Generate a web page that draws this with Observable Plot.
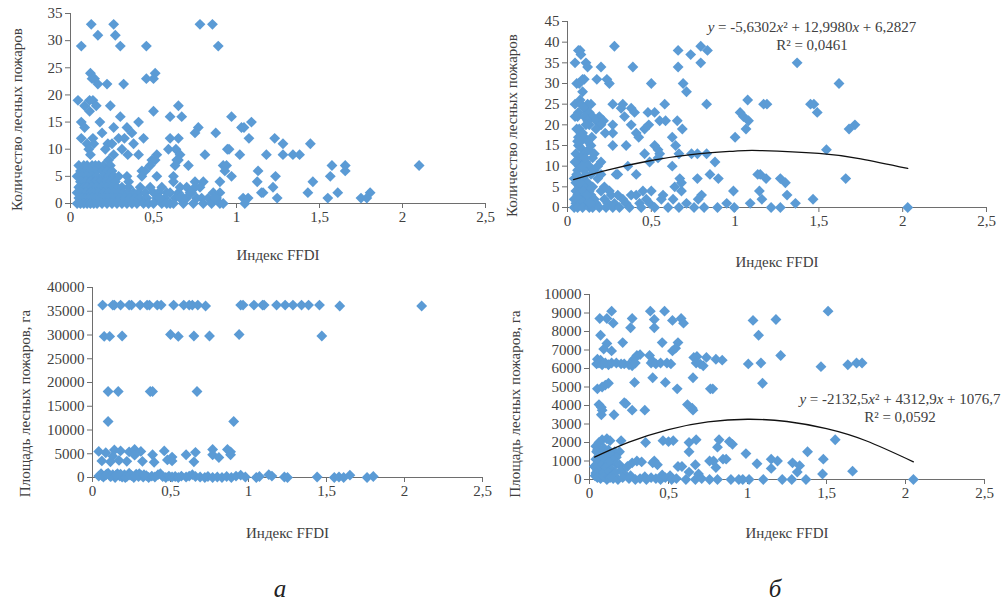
<!DOCTYPE html>
<html>
<head>
<meta charset="utf-8">
<script src="https://cdn.jsdelivr.net/npm/d3@7"></script>
<script src="https://cdn.jsdelivr.net/npm/@observablehq/plot@0.6"></script>
<style>
  html, body { margin: 0; padding: 0; background: #fff; }
  #root { position: relative; width: 1008px; height: 601px; overflow: hidden; font-family: "Liberation Serif", "Times New Roman", serif; }
  #root svg { position: absolute; }
  .eq { position: absolute; font-family: "Liberation Serif", serif; font-size: 15px; color: #404040; text-align: center; white-space: nowrap; line-height: 18px; transform: translateX(-50%); }
  .letter { position: absolute; font-family: "Liberation Serif", serif; font-style: italic; font-size: 25px; color: #222; transform: translate(-50%, -50%); }
</style>
</head>
<body>
<div id="root"></div>
<script>
// ---------- data ----------
const xTicks = [0, 0.5, 1, 1.5, 2, 2.5];
const yTicksCountA = [0, 5, 10, 15, 20, 25, 30, 35];
const yTicksCountB = [0, 5, 10, 15, 20, 25, 30, 35, 40, 45];
const yTicksAreaA = [0, 5000, 10000, 15000, 20000, 25000, 30000, 35000, 40000];
const yTicksAreaB = [0, 1000, 2000, 3000, 4000, 5000, 6000, 7000, 8000, 9000, 10000];
const xLabel = "Индекс FFDI";
const yLabelCount = "Количество лесных пожаров";
const yLabelArea = "Площадь лесных пожаров, га";
const panelLetters = ["а", "б"];

// panel а, top: FFDI vs number of fires
const ffdiCountA = [
[0.125,33],[0.26,33],[0.78,33],[0.855,33],
[0.165,31],[0.27,31],
[0.065,29],[0.3,29],[0.457,29],[0.89,29],
[0.12,24],[0.51,24],
[0.13,23],[0.145,23],[0.457,23],[0.5,23],
[0.165,22],[0.22,22],[0.32,22],
[0.045,19],[0.115,19],[0.135,19],
[0.085,18],[0.155,18],[0.24,18],[0.65,18],
[0.115,17],[0.5,17],
[0.3,16],[0.6,16],[0.67,16],[0.97,16],
[0.065,15],[0.177,15],[0.41,15],[1.09,15],
[0.085,14],[0.26,14],[0.34,14],[0.77,14],[1.03,14],[1.045,14],
[0.19,13],[0.37,13],[0.75,13],[0.875,13],
[0.065,12],[0.135,12],[0.29,12],[0.325,12],[0.44,12],[0.6,12],[0.65,12],[1.075,12],[1.23,12],
[0.1,11],[0.14,11],[0.225,11],[0.25,11],[0.38,11],[1.28,11],[1.445,11],
[0.11,10],[0.21,10],[0.31,10],[0.59,10],[0.635,10],[0.945,10],[0.955,10],
[0.12,9],[0.26,9],[0.345,9],[0.41,9],[0.52,9],[0.66,9],[0.81,9],[1.02,9],[1.18,9],[1.28,9],[1.34,9],[1.38,9],
[0.23,8],[0.49,8],[0.51,8],[0.64,8],[0.65,8],
[0.05,7],[0.08,7],[0.1,7],[0.13,7],[0.15,7],[0.17,7],[0.2,7],[0.24,7],[0.48,7],[0.63,7],[0.71,7],[0.92,7],[0.94,7],[1.575,7],[1.655,7],[2.1,7],
[0.06,6],[0.09,6],[0.12,6],[0.15,6],[0.19,6],[0.22,6],[0.25,6],[0.43,6],[0.45,6],[0.93,6],[1.13,6],[1.655,6],
[0.04,5],[0.07,5],[0.1,5],[0.13,5],[0.16,5],[0.2,5],[0.23,5],[0.26,5],[0.29,5],[0.34,5],[0.43,5],[0.52,5],[0.62,5],[0.97,5],[1.235,5],[1.565,5],
[0.06,4],[0.09,4],[0.12,4],[0.15,4],[0.18,4],[0.21,4],[0.24,4],[0.27,4],[0.35,4],[0.62,4],[0.75,4],[0.8,4],[0.9,4],[1.125,4],[1.46,4],
[0.05,3],[0.08,3],[0.1,3],[0.13,3],[0.16,3],[0.19,3],[0.22,3],[0.25,3],[0.28,3],[0.31,3],[0.35,3],[0.42,3],[0.48,3],[0.55,3],[0.7,3],[0.75,3],[1.22,3],
[0.04,2],[0.06,2],[0.09,2],[0.12,2],[0.14,2],[0.17,2],[0.2,2],[0.23,2],[0.26,2],[0.29,2],[0.32,2],[0.35,2],[0.38,2],[0.41,2],[0.45,2],[0.5,2],[0.53,2],[0.58,2],[0.65,2],[0.72,2],[0.9,2],[1.15,2],[1.16,2],[1.43,2],[1.61,2],[1.805,2],
[0.05,1],[0.07,1],[0.09,1],[0.11,1],[0.13,1],[0.15,1],[0.18,1],[0.21,1],[0.24,1],[0.27,1],[0.3,1],[0.33,1],[0.36,1],[0.39,1],[0.42,1],[0.46,1],[0.52,1],[0.57,1],[0.63,1],[0.66,1],[0.7,1],[0.76,1],[0.79,1],[0.83,1],[0.88,1],[1.04,1],[1.07,1],[1.245,1],[1.55,1],[1.75,1],[1.785,1],
[0.04,0],[0.06,0],[0.08,0],[0.1,0],[0.12,0],[0.14,0],[0.16,0],[0.19,0],[0.22,0],[0.25,0],[0.28,0],[0.31,0],[0.34,0],[0.37,0],[0.4,0],[0.44,0],[0.47,0],[0.5,0],[0.55,0],[0.6,0],[0.62,0],[0.68,0],[0.74,0],[0.8,0],[0.85,0],[0.9,0],[1.05,0],
[0.54,1],[0.6,2],[0.68,1],[0.73,2],[0.78,3],[0.86,2],[0.87,1],[0.92,0],[0.58,0],[0.66,3]
];

// panel б, top: FFDI vs number of fires
const ffdiCountB = [
[0.28,39],[0.795,39],
[0.065,38],[0.075,38],[0.66,38],[0.835,38],
[0.08,37],[0.735,37],
[0.045,35],[0.11,35],[0.795,35],[1.37,35],
[0.12,34],[0.2,34],[0.39,34],[0.66,34],
[0.09,31],[0.1,31],[0.175,31],[0.235,31],
[0.055,30],[0.07,30],[0.25,30],[0.5,30],[0.69,30],[1.62,30],
[0.09,28],[0.71,28],
[0.075,26],[1.075,26],
[0.045,25],[0.08,25],[0.12,25],[0.14,25],[0.27,25],[0.33,25],[0.58,25],[0.83,25],[1.17,25],[1.19,25],[1.45,25],[1.47,25],
[0.1,24],[0.32,24],[0.38,24],
[0.065,23],[0.13,23],[0.4,23],[0.48,23],[0.52,23],[1.03,23],[1.49,23],
[0.045,22],[0.06,22],[0.1,22],[0.15,22],[0.19,22],[0.34,22],[1.05,22],
[0.12,21],[0.17,21],[0.215,21],[0.55,21],[0.585,21],[0.655,21],[1.08,21],
[0.13,20],[0.2,20],[0.27,20],[0.38,20],[0.485,20],[1.715,20],
[0.07,19],[0.17,19],[0.46,19],[0.685,19],[1.065,19],[1.68,19],
[0.08,18],[0.225,18],[0.27,18],[0.41,18],
[0.065,17],[0.1,17],[0.425,17],[0.625,17],[1.0,17],
[0.08,16],[0.12,16],
[0.065,15],[0.14,15],[0.27,15],[0.35,15],[0.52,15],[0.645,15],
[0.09,14],[0.13,14],[0.54,14],[1.545,14],
[0.05,13],[0.1,13],[0.46,13],[0.55,13],[0.665,13],[0.74,13],[0.775,13],[0.83,13],
[0.08,12],[0.15,12],[0.54,12],
[0.065,11],[0.11,11],[0.2,11],[0.49,11],[0.88,11],
[0.07,10],[0.13,10],[0.36,10],[0.625,10],
[0.06,9],[0.1,9],[0.16,9],
[0.11,8],[0.14,8],[0.29,8],[0.3,8],[0.41,8],[0.85,8],[1.135,8],[1.15,8],
[0.04,7],[0.09,7],[0.18,7],[0.67,7],[0.775,7],[0.9,7],[1.185,7],[1.27,7],[1.66,7],
[0.05,6],[0.12,6],[0.68,6],[1.3,6],
[0.07,5],[0.1,5],[0.15,5],[0.64,5],
[0.05,4],[0.08,4],[0.13,4],[0.2,4],[0.45,4],[0.5,4],[0.68,4],[0.99,4],[1.145,4],
[0.06,3],[0.1,3],[0.14,3],[0.26,3],[0.3,3],[0.38,3],[0.41,3],[0.57,3],[0.8,3],[1.31,3],
[0.04,2],[0.07,2],[0.11,2],[0.16,2],[0.22,2],[0.33,2],[0.47,2],[0.56,2],[0.63,2],[0.78,2],[1.16,2],[1.465,2],
[0.05,1],[0.08,1],[0.12,1],[0.17,1],[0.24,1],[0.28,1],[0.35,1],[0.43,1],[0.49,1],[0.71,1],[0.95,1],[1.09,1],[1.36,1],
[0.04,0],[0.06,0],[0.09,0],[0.13,0],[0.15,0],[0.19,0],[0.23,0],[0.27,0],[0.31,0],[0.37,0],[0.44,0],[0.52,0],[0.6,0],[0.665,0],[0.755,0],[0.815,0],[0.895,0],[0.995,0],[1.215,0],[1.27,0],[2.03,0],
[0.055,8],[0.075,6],[0.095,4],[0.115,3],[0.135,1],[0.155,9],[0.085,10],[0.105,12],[0.125,14],[0.06,16],[0.09,18],[0.11,20],[0.055,19],[0.145,17],[0.16,13],[0.18,10],[0.2,8],[0.22,5],[0.25,4],[0.045,11]
];

// panel а, bottom: FFDI vs burnt area, ha
const ffdiAreaA = [
[0.065,36300],[0.13,36300],[0.14,36300],[0.18,36300],[0.235,36300],[0.25,36300],[0.305,36300],[0.35,36300],[0.365,36300],[0.415,36300],[0.44,36300],[0.52,36300],[0.585,36300],[0.62,36300],[0.64,36300],[0.675,36300],[0.725,36100],[0.95,36300],[0.965,36300],[1.035,36300],[1.09,36300],[1.1,36300],[1.18,36300],[1.235,36300],[1.285,36300],[1.34,36300],[1.385,36300],[1.455,36300],[1.585,36100],[2.11,36100],
[0.075,29700],[0.11,29700],[0.19,29800],[0.5,30100],[0.55,29700],[0.65,29800],[0.75,29800],[0.94,30100],[1.47,29800],
[0.1,18100],[0.165,18100],[0.37,18100],[0.385,18100],[0.67,18100],
[0.1,11800],[0.905,11800],
[0.04,5500],[0.085,5200],[0.14,5800],[0.18,5600],[0.235,5400],[0.27,5900],[0.31,5500],[0.46,5600],[0.6,4800],[0.66,5300],[0.77,5900],[0.865,5900],[0.885,5400],
[0.13,4500],[0.27,4700],[0.385,4800],[0.51,4300],[0.77,4800],[0.885,4800],
[0.06,3500],[0.115,3300],[0.17,3600],[0.22,3400],[0.32,3400],[0.395,3200],[0.48,3700],[0.51,3500],[0.65,3300],[0.81,4200],
[0.04,300],[0.055,800],[0.07,100],[0.085,500],[0.1,900],[0.115,200],[0.13,600],[0.145,0],[0.16,800],[0.175,300],[0.19,100],[0.205,600],[0.22,200],[0.235,900],[0.25,400],[0.265,0],[0.28,700],[0.295,200],[0.31,500],[0.325,100],[0.345,400],[0.36,0],[0.38,300],[0.4,100],[0.42,600],[0.435,800],[0.45,200],[0.47,0],[0.49,300],[0.51,100],[0.53,200],[0.55,0],[0.57,300],[0.6,100],[0.62,300],[0.64,600],[0.66,200],[0.69,100],[0.72,0],[0.74,200],[0.77,0],[0.8,100],[0.83,0],[0.86,200],[0.89,0],[0.92,300],[0.95,500],[0.98,100],
[0.06,400],[0.09,700],[0.12,300],[0.15,500],[0.18,700],[0.21,0],[0.24,500],[0.27,300],[0.3,800],[0.33,600],
[1.05,0],[1.07,200],[1.13,600],[1.15,300],[1.23,100],[1.25,0],[1.44,100],[1.55,0],[1.58,100],[1.61,0],[1.65,500],[1.76,0],[1.8,200]
];

// panel б, bottom: FFDI vs burnt area, ha
const ffdiAreaB = [
[0.14,9100],[0.385,9100],[0.475,9100],[1.51,9100],
[0.065,8700],[0.11,8700],[0.27,8700],[0.41,8650],[0.525,8600],[0.58,8700],[1.035,8600],[1.18,8650],
[0.15,8450],[0.595,8450],
[0.26,8200],[0.41,8200],
[0.07,7800],[1.07,7800],
[0.11,7350],[0.21,7400],[0.46,7400],[0.56,7400],
[0.09,7050],[0.14,6950],[0.525,6950],[0.545,7100],
[0.3,6700],[0.32,6750],[0.38,6700],[0.68,6650],[1.21,6700],
[0.05,6500],[0.07,6450],[0.28,6500],[0.4,6400],[0.66,6600],[0.74,6600],[0.8,6500],[0.84,6450],
[0.045,6250],[0.06,6300],[0.08,6200],[0.1,6300],[0.12,6200],[0.14,6300],[0.17,6300],[0.2,6250],[0.22,6250],[0.25,6200],[0.27,6150],[0.29,6300],[0.39,6300],[0.42,6250],[0.45,6300],[0.49,6300],[0.515,6250],[0.675,6300],[0.7,6250],[0.72,6150],[1.005,6250],[1.085,6300],[1.465,6100],[1.635,6200],[1.69,6300],[1.725,6300],
[0.4,5500],[0.655,5500],
[0.05,4900],[0.08,5000],[0.1,5100],[0.12,5200],[0.285,5250],[0.48,5250],[1.095,5200],
[0.555,4900],[0.765,4900],[0.78,4900],
[0.06,4050],[0.075,3900],[0.22,4150],[0.23,4100],[0.62,4050],[0.65,3850],
[0.08,3750],[0.27,3750],[0.35,3750],[0.655,3750],
[0.075,3500],[0.155,3500],
[0.04,1800],[0.06,2000],[0.08,2150],[0.11,2200],[0.13,2100],[0.2,2100],[0.355,2000],[0.465,2100],[0.5,2050],[0.53,2100],[0.63,2000],[0.675,2150],[0.82,2150],[0.885,2050],[0.905,1900],[1.555,2150],
[0.05,1600],[0.09,1700],[0.12,1600],[0.16,1500],[0.19,1500],[0.63,1500],[0.81,1750],[1.38,1500],
[0.06,1300],[0.1,1350],[0.14,1300],[0.99,1400],[0.045,1500],[0.07,1400],[0.17,1200],
[0.04,1100],[0.07,1000],[0.11,1150],[0.15,1050],[0.76,1000],[0.785,1000],[0.845,1100],[0.865,1100],[1.15,1100],[1.19,1000],[1.48,1100],
[0.05,850],[0.08,800],[0.13,900],[0.17,850],[0.27,900],[0.3,1000],[0.33,950],[0.4,900],[0.41,1000],[0.43,800],[0.67,800],[0.8,650],[1.06,850],[1.285,900],[1.33,750],[0.09,1200],[0.12,900],[0.19,800],
[0.06,600],[0.1,650],[0.14,550],[0.2,500],[0.24,700],[0.56,700],[0.585,700],[1.15,600],[1.665,450],[0.03,700],[0.05,500],[0.1,400],
[0.04,350],[0.08,300],[0.12,400],[0.16,350],[0.22,300],[0.26,200],[0.35,150],[0.46,250],[0.51,200],[0.63,400],[0.69,300],[1.315,400],[1.475,300],[0.035,200],[0.15,200],
[0.05,100],[0.07,50],[0.09,150],[0.11,0],[0.13,100],[0.15,50],[0.18,0],[0.21,100],[0.25,50],[0.29,0],[0.32,50],[0.36,0],[0.39,100],[0.42,50],[0.45,0],[0.48,100],[0.52,0],[0.55,50],[0.61,0],[0.67,0],[0.71,50],[0.76,0],[0.81,0],[0.895,0],[0.945,0],[0.97,0],[1.01,0],[1.1,0],[1.22,0],[1.28,0],[1.37,0],[2.05,0]
];

// polynomial trend lines
const trendCountBx = [0.036, 0.25, 0.5, 0.75, 1.0, 1.15, 1.5, 1.75, 2.03];
const trendCountBy = [6.75, 9.18, 11.37, 12.86, 13.65, 13.78, 13.11, 11.79, 9.47];
const trendAreaBx = [0.032, 0.25, 0.5, 0.75, 1.0, 1.25, 1.5, 1.75, 2.05];
const trendAreaBy = [1213, 2022, 2700, 3112, 3257, 3136, 2748, 2094, 956];

const eqCountB = ["<i>y</i> = -5,6302<i>x</i>² + 12,9980<i>x</i> + 6,2827", "R² = 0,0461"];
const eqAreaB = ["<i>y</i> = -2132,5<i>x</i>² + 4312,9<i>x</i> + 1076,7", "R² = 0,0592"];

// ---------- drawing ----------
const fmt = d => String(d).replace(".", ",");
const blue = "#5B9BD5";
const axisColor = "#6e6e6e";
const textColor = "#404040";

function panel(o) {
  const marks = [
    Plot.ruleY([0], {stroke: axisColor, strokeWidth: 1}),
    Plot.ruleX([0], {stroke: axisColor, strokeWidth: 1}),
    Plot.axisX({ticks: xTicks, tickFormat: fmt, tickSize: 5, tickPadding: 3, stroke: axisColor, fill: textColor, label: null}),
    Plot.axisY({ticks: o.yTicks, tickFormat: d => String(d), tickSize: 5, tickPadding: 3, stroke: axisColor, fill: textColor, label: null}),
    Plot.dot(o.data, {x: d => d[0], y: d => d[1], symbol: "diamond2", r: 4.9, fill: blue, stroke: "none"}),
    Plot.text([xLabel], {frameAnchor: "bottom", dy: o.xdy, textAnchor: "middle", lineAnchor: "middle", fill: textColor, fontSize: 15}),
    Plot.text([o.ylabel], {frameAnchor: "left", rotate: -90, dx: o.ydx, dy: o.ydy, textAnchor: "middle", lineAnchor: "middle", fill: textColor, fontSize: 15})
  ];
  if (o.tx) {
    marks.push(Plot.line(o.tx.map((x, i) => [x, o.ty[i]]), {x: d => d[0], y: d => d[1], stroke: "#111", strokeWidth: 1.3, curve: "natural"}));
  }
  const svg = Plot.plot({
    width: o.width, height: o.height,
    marginLeft: o.ml, marginRight: o.mr, marginTop: o.mt, marginBottom: o.mb,
    style: {fontFamily: "'Liberation Serif', 'Times New Roman', serif", fontSize: "15px", color: textColor, background: "transparent"},
    x: {domain: [0, 2.5]},
    y: {domain: [0, o.ymax]},
    marks
  });
  svg.style.left = o.left + "px";
  svg.style.top = o.top + "px";
  document.getElementById("root").appendChild(svg);
}

panel({data: ffdiCountA, yTicks: yTicksCountA, ymax: 35, ylabel: yLabelCount,
  left: 0, top: 0, width: 500, height: 270, ml: 70, mr: 15, mt: 13, mb: 67, xdy: 52, ydx: -53, ydy: 11});
panel({data: ffdiCountB, yTicks: yTicksCountB, ymax: 45, ylabel: yLabelCount, tx: trendCountBx, ty: trendCountBy,
  left: 500, top: 0, width: 508, height: 270, ml: 67, mr: 22, mt: 21, mb: 63, xdy: 55, ydx: -55, ydy: 11});
panel({data: ffdiAreaA, yTicks: yTicksAreaA, ymax: 40000, ylabel: yLabelArea,
  left: 0, top: 270, width: 500, height: 280, ml: 92, mr: 18, mt: 17, mb: 73, xdy: 56, ydx: -67, ydy: 21});
panel({data: ffdiAreaB, yTicks: yTicksAreaB, ymax: 10000, ylabel: yLabelArea, tx: trendAreaBx, ty: trendAreaBy,
  left: 500, top: 270, width: 508, height: 280, ml: 89, mr: 24, mt: 24, mb: 71, xdy: 54, ydx: -74, ydy: 17});

function addEq(lines, cx, top) {
  const d = document.createElement("div");
  d.className = "eq";
  d.style.left = cx + "px";
  d.style.top = top + "px";
  d.innerHTML = lines.join("<br>");
  document.getElementById("root").appendChild(d);
}
addEq(eqCountB, 812, 18);
addEq(eqAreaB, 900, 390);

[[panelLetters[0], 280, 589], [panelLetters[1], 775, 589]].forEach(([t, x, y]) => {
  const d = document.createElement("div");
  d.className = "letter";
  d.textContent = t;
  d.style.left = x + "px";
  d.style.top = y + "px";
  document.getElementById("root").appendChild(d);
});
</script>
</body>
</html>
